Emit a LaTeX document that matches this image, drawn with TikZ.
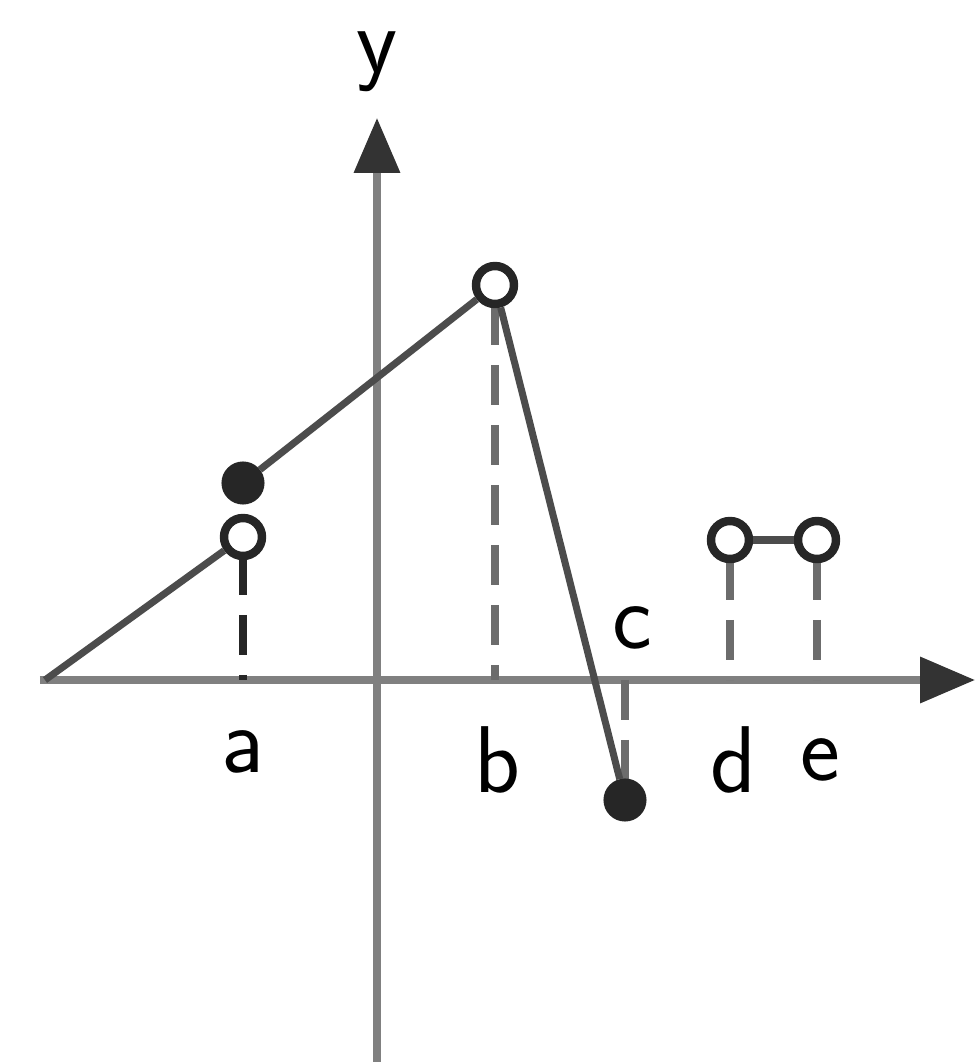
\documentclass[tikz,border=0pt]{standalone}
\usepackage{tikz}
\usetikzlibrary{arrows.meta}
\begin{document}
\begin{tikzpicture}[every node/.style={font=\sffamily\fontsize{27}{30}\selectfont,inner sep=1pt},
  opendot/.style={circle,draw=black!85,line width=2.4pt,fill=white,inner sep=0pt,minimum size=0.38cm},
  filldot/.style={circle,draw=black!85,line width=2pt,fill=black!85,inner sep=0pt,minimum size=0.36cm},
  drop/.style={gray!85!black,line width=2pt,dash pattern=on 0.4cm off 0.2cm},
  graph/.style={black!70,line width=2pt}]

\useasboundingbox (-3.77,-3.82) rectangle (6.02,6.80);

\coordinate (xl) at (-3.37,0);
\coordinate (xr) at (5.98,0);
\coordinate (yb) at (0,-3.82);
\coordinate (yt) at (0,5.62);
\coordinate (start) at (-3.32,0);

\draw[gray,line width=2pt,-{Triangle[length=0.55cm,width=0.45cm,color=black!80]}] (xl) -- (xr);
\draw[gray,line width=2pt,-{Triangle[length=0.55cm,width=0.45cm,color=black!80]}] (yb) -- (yt);
\node (ylab) at (0,6.18) {y};

\coordinate (ax) at (-1.34,0);
\coordinate (bx) at (1.18,0);
\coordinate (cx) at (2.48,0);
\coordinate (dx) at (3.53,0);
\coordinate (ex) at (4.40,0);

\draw[drop,black!85] (-1.34,1.25) -- (ax);
\draw[drop] (1.18,3.75) -- (bx);
\draw[drop] (cx) -- (2.48,-1.0);
\draw[drop] (3.53,1.2) -- (dx);
\draw[drop] (4.40,1.2) -- (ex);

\node[opendot] (aopen) at (-1.34,1.43) {};
\node[filldot] (afill) at (-1.34,1.97) {};
\node[opendot] (bopen) at (1.18,3.95) {};
\node[filldot] (cfill) at (2.48,-1.20) {};
\node[opendot] (dopen) at (3.53,1.40) {};
\node[opendot] (eopen) at (4.40,1.40) {};

\draw[graph] (start) -- (aopen);
\draw[graph] (afill) -- (bopen);
\draw[graph] (bopen) -- (cfill);
\draw[graph] (dopen) -- (eopen);

\node (alab) at (-1.34,-0.72) {a};
\node (blab) at (1.20,-0.80) {b};
\node (clab) at (2.55,0.52) {c};
\node (dlab) at (3.56,-0.80) {d};
\node (elab) at (4.43,-0.80) {e};

\end{tikzpicture}
\end{document}
